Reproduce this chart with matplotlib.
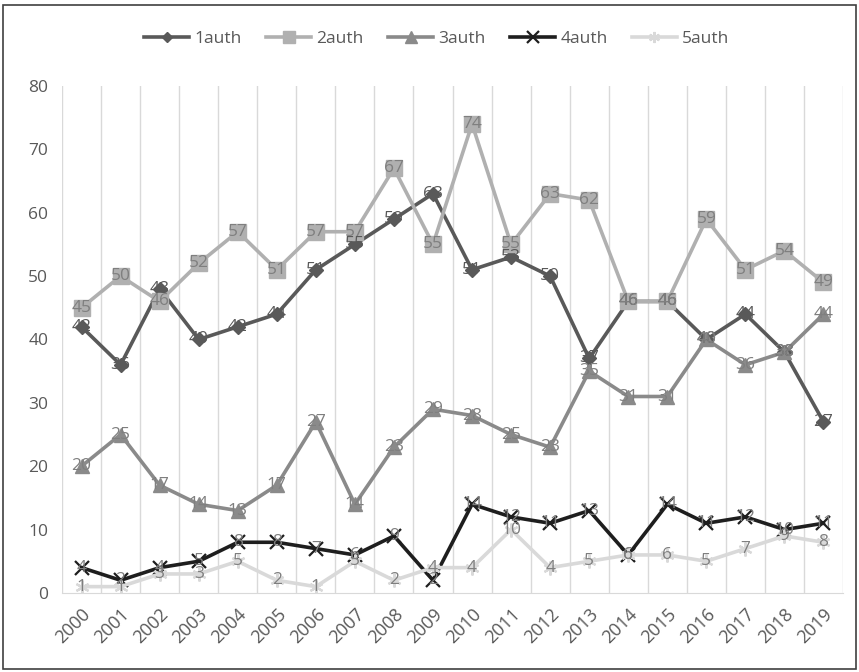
import matplotlib.pyplot as plt
from matplotlib.patches import Rectangle

plt.rcParams['font.family'] = ['Open Sans', 'DejaVu Sans']

# Publications per year, by number of authors
years = [str(y) for y in range(2000, 2020)]
auth1 = [42, 36, 48, 40, 42, 44, 51, 55, 59, 63, 51, 53, 50, 37, 46, 46, 40, 44, 38, 27]
auth2 = [45, 50, 46, 52, 57, 51, 57, 57, 67, 55, 74, 55, 63, 62, 46, 46, 59, 51, 54, 49]
auth3 = [20, 25, 17, 14, 13, 17, 27, 14, 23, 29, 28, 25, 23, 35, 31, 31, 40, 36, 38, 44]
auth4 = [4, 2, 4, 5, 8, 8, 7, 6, 9, 2, 14, 12, 11, 13, 6, 14, 11, 12, 10, 11]
auth5 = [1, 1, 3, 3, 5, 2, 1, 5, 2, 4, 4, 10, 4, 5, 6, 6, 5, 7, 9, 8]

series = [
    ('1auth', auth1, '#595959', 'D', 7),
    ('2auth', auth2, '#b0b0b0', 's', 11),
    ('3auth', auth3, '#8a8a8a', '^', 10),
    ('4auth', auth4, '#1e1e1e', 'x', 10),
    ('5auth', auth5, '#d9d9d9', (6, 2, 0), 10),
]

fig = plt.figure(figsize=(8.59, 6.72), dpi=100)
ax = fig.add_axes([0.0722, 0.1176, 0.9092, 0.7545])

xs = list(range(len(years)))
for name, vals, col, mk, ms in series:
    ax.plot(xs, vals, color=col, lw=2.6, marker=mk, markersize=ms,
            markeredgewidth=1.6 if mk in ('x', (6, 2, 0)) else 1,
            markeredgecolor=col, markerfacecolor=col, label=name, zorder=3)

# value labels sit on top of the markers
for name, vals, col, mk, ms in series:
    tc = '#595959' if name == '1auth' else '#7f7f7f'
    for x, v in zip(xs, vals):
        ax.text(x, v, str(v), ha='center', va='center', fontsize=12.5,
                color=tc, zorder=4)

ax.set_xlim(-0.5, len(years) - 0.5)
ax.set_ylim(0, 80)
ax.set_yticks(range(0, 81, 10))
ax.set_xticks(xs)
ax.set_xticklabels(years, rotation=45, ha='right', rotation_mode='anchor')
ax.tick_params(axis='both', length=0, labelsize=12.5, colors='#595959', pad=10)
ax.tick_params(axis='x', pad=9, labelsize=13)

# vertical separators between categories
for b in range(len(years) + 1):
    ax.axvline(b - 0.5, color='#d9d9d9', lw=1, zorder=1)
for s in ['top', 'left', 'right']:
    ax.spines[s].set_visible(False)
ax.spines['bottom'].set_color('#d9d9d9')

ax.legend(loc='upper center', bbox_to_anchor=(0.48, 1.14), ncol=5, frameon=False,
          fontsize=12.5, labelcolor='#595959', handlelength=2.6, markerscale=0.8,
          columnspacing=1.4, handletextpad=0.3)

fig.patches.append(Rectangle((0.004, 0.005), 0.992, 0.988, transform=fig.transFigure,
                             fill=False, edgecolor='#404040', lw=1.2))

fig.savefig('out.png', dpi=100)
